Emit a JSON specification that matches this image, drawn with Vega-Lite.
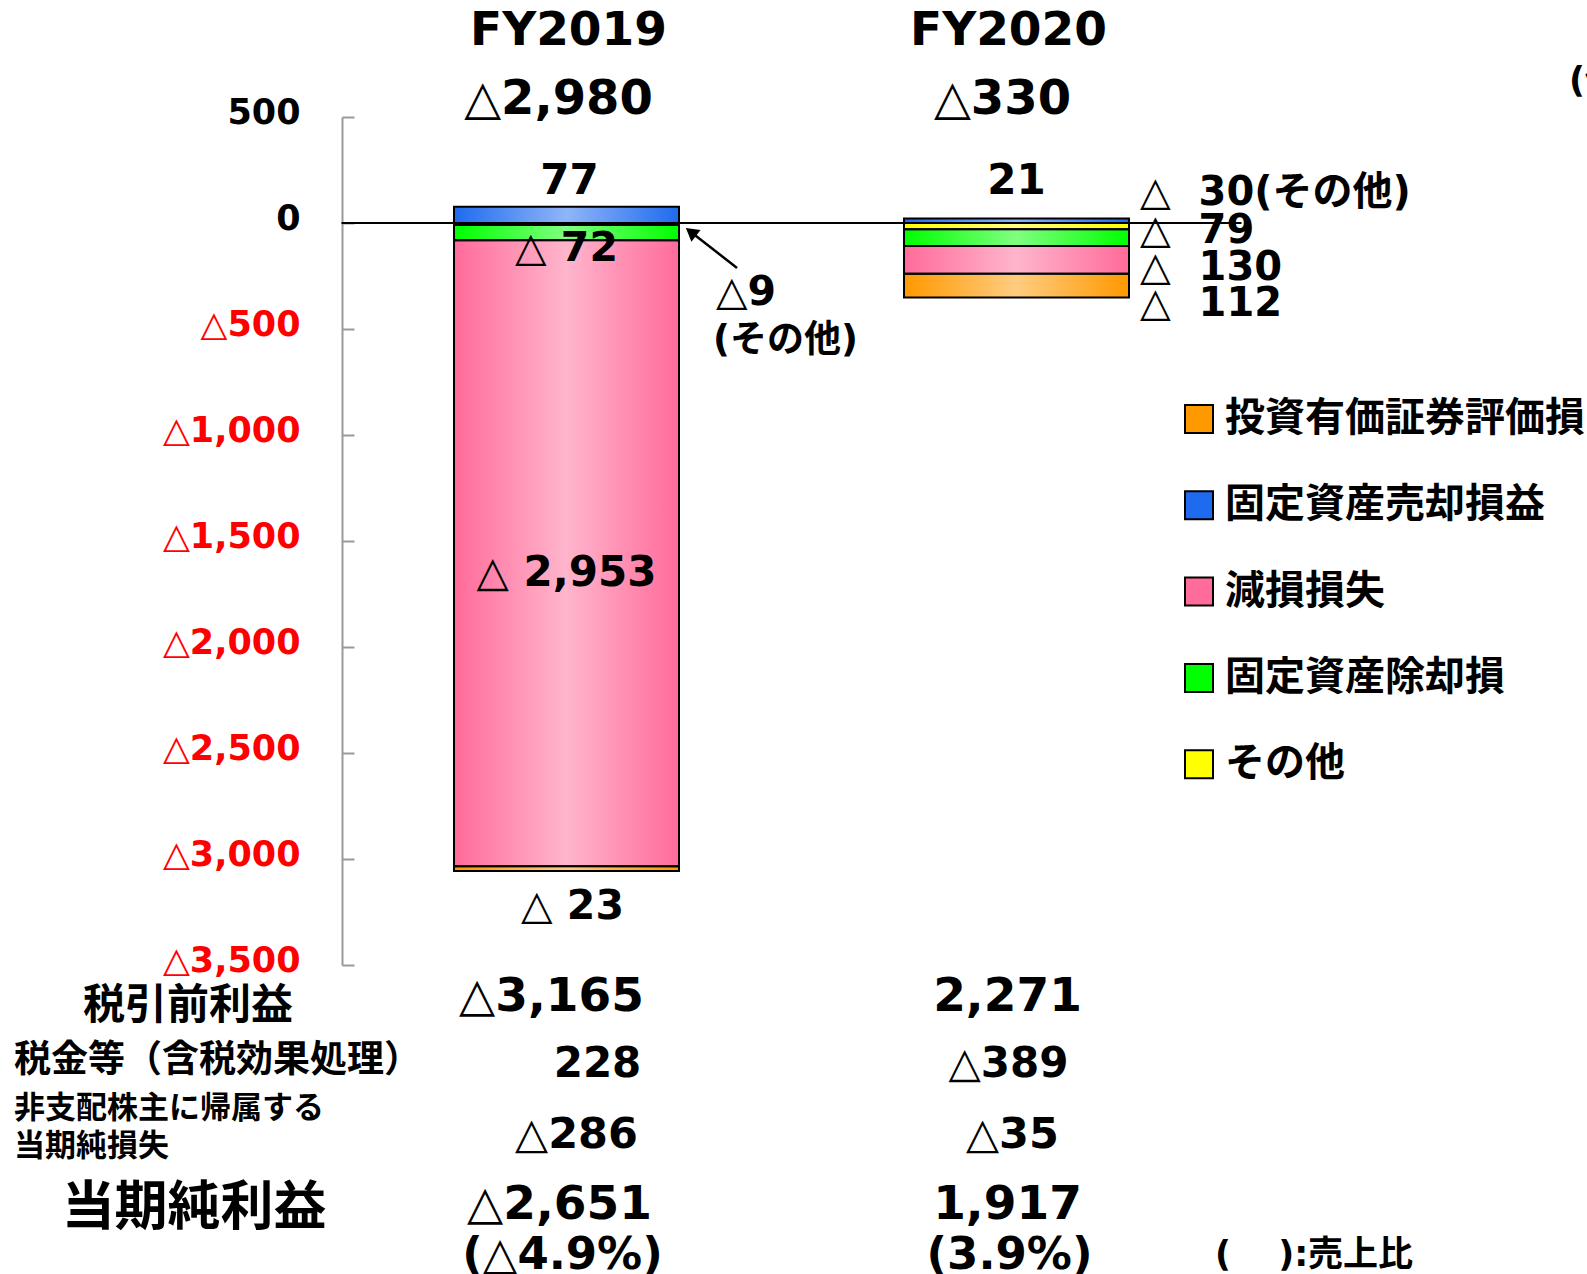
{
  "$schema": "https://vega.github.io/schema/vega-lite/v6.json",
  "width": 1125,
  "height": 848,
  "autosize": {"type": "none"},
  "padding": {"left": 4, "top": 117, "right": 458, "bottom": 309},
  "background": "white",
  "config": {
    "view": {"stroke": null},
    "axisX": {"disable": true},
    "text": {"font": "DejaVu Sans, Noto Sans CJK JP", "fontWeight": "bold", "color": "#000000"}
  },
  "datasets": {
    "bars": [
      {"year": "FY2019", "item": "固定資産売却損益", "value": 77, "order": 0},
      {"year": "FY2019", "item": "その他", "value": -9, "order": 1},
      {"year": "FY2019", "item": "固定資産除却損", "value": -72, "order": 2},
      {"year": "FY2019", "item": "減損損失", "value": -2953, "order": 3},
      {"year": "FY2019", "item": "投資有価証券評価損", "value": -23, "order": 4},
      {"year": "FY2020", "item": "固定資産売却損益", "value": 21, "order": 0},
      {"year": "FY2020", "item": "その他", "value": -30, "order": 1},
      {"year": "FY2020", "item": "固定資産除却損", "value": -79, "order": 2},
      {"year": "FY2020", "item": "減損損失", "value": -130, "order": 3},
      {"year": "FY2020", "item": "投資有価証券評価損", "value": -112, "order": 4}
    ]
  },
  "layer": [
    {
      "data": {"name": "bars"},
      "mark": {"type": "bar"},
      "encoding": {
        "x": {"field": "year", "type": "nominal", "scale": {"type": "band", "domain": ["項目", "FY2019", "FY2020"], "paddingInner": 0.5, "paddingOuter": 0}, "axis": null},
        "y": {
          "field": "value", "type": "quantitative", "stack": "zero",
          "scale": {"domain": [-3500, 500], "nice": false, "zero": false},
          "axis": {
            "title": null,
            "values": [500, 0, -500, -1000, -1500, -2000, -2500, -3000, -3500],
            "labelExpr": "datum.value < 0 ? '△' + format(-datum.value, ',') : format(datum.value, ',')",
            "labelColor": {"condition": {"test": "datum.value < 0", "value": "#FF0000"}, "value": "#000000"},
            "labelFont": "DejaVu Sans",
            "labelFontWeight": "bold",
            "labelFontSize": 35,
            "labelPadding": 54,
            "labelOffset": -5,
            "offset": -338,
            "grid": false,
            "domainColor": "#999999",
            "domainWidth": 2,
            "tickColor": "#999999",
            "tickWidth": 2,
            "tickSize": -12
          }
        },
        "color": {
          "field": "item", "type": "nominal",
          "scale": {"domain": ["投資有価証券評価損", "固定資産売却損益", "減損損失", "固定資産除却損", "その他"], "range": ["#FF9900", "#1F6BEF", "#FF6B9A", "#00FF00", "#FFFF00"]},
          "legend": {
            "title": null, "orient": "none", "legendX": 1175, "legendY": 282, "padding": 0,
            "symbolType": "square", "symbolSize": 784, "symbolStrokeColor": "#000000", "symbolStrokeWidth": 2, "symbolOpacity": 1,
            "labelFont": "Noto Sans CJK JP", "labelFontWeight": "bold", "labelFontSize": 40, "labelColor": "#000000",
            "labelOffset": 6, "labelLimit": 0, "rowPadding": 46.3
          }
        },
        "order": {"field": "order", "type": "quantitative"}
      }
    },
    {
      "data": {"name": "bars"},
      "mark": {
        "type": "bar", "stroke": "#000000", "strokeWidth": 2,
        "fill": {"gradient": "linear", "x1": 0, "x2": 1, "y1": 0, "y2": 0,
          "stops": [{"offset": 0, "color": "rgba(255,255,255,0)"}, {"offset": 0.5, "color": "rgba(255,255,255,0.5)"}, {"offset": 1, "color": "rgba(255,255,255,0)"}]}
      },
      "encoding": {
        "x": {"field": "year", "type": "nominal"},
        "y": {"field": "value", "type": "quantitative", "stack": "zero"},
        "detail": {"field": "item"},
        "order": {"field": "order", "type": "quantitative"}
      }
    },
    {
      "data": {"values": [{}]},
      "mark": {"type": "rule", "color": "#000000", "strokeWidth": 2},
      "encoding": {"x": {"datum": "FY2019", "bandPosition": -0.5}, "x2": {"datum": "FY2020", "bandPosition": 1.5}, "y": {"datum": 0}}
    },
    {
      "data": {"values": [{}]},
      "mark": {"type": "rule", "color": "#000000", "strokeWidth": 2.5},
      "encoding": {"x": {"datum": "FY2019", "bandPosition": 1.258}, "y": {"datum": -212}, "x2": {"datum": "FY2019", "bandPosition": 1.05}, "y2": {"datum": -40}}
    },
    {
      "data": {"values": [{}]},
      "mark": {"type": "point", "shape": "triangle-up", "filled": true, "color": "#000000", "opacity": 1, "size": 220, "angle": 308},
      "encoding": {"x": {"datum": "FY2019", "bandPosition": 1.053}, "y": {"datum": -42}}
    },
    {
      "data": {"values": [{"year": "FY2019", "t": "FY2019"}, {"year": "FY2020", "t": "FY2020"}]},
      "mark": {"type": "text", "fontSize": 47, "dx": {"expr": "datum.year === 'FY2019' ? 2 : -8"}},
      "encoding": {"x": {"field": "year", "type": "nominal"}, "y": {"datum": 905}, "text": {"field": "t"}}
    },
    {
      "data": {"values": [{"year": "FY2019", "t": "△2,980"}, {"year": "FY2020", "t": "△330"}]},
      "mark": {"type": "text", "fontSize": 48, "dx": {"expr": "datum.year === 'FY2019' ? -8 : -14"}},
      "encoding": {"x": {"field": "year", "type": "nominal"}, "y": {"datum": 578}, "text": {"field": "t"}}
    },
    {
      "data": {"values": [{"year": "FY2019", "t": "77"}, {"year": "FY2020", "t": "21"}]},
      "mark": {"type": "text", "fontSize": 42, "dx": {"expr": "datum.year === 'FY2019' ? 3 : 0"}},
      "encoding": {"x": {"field": "year", "type": "nominal"}, "y": {"datum": 198}, "text": {"field": "t"}}
    },
    {
      "data": {"values": [{"year": "FY2019", "t": "△ 72"}]},
      "mark": {"type": "text", "fontSize": 41},
      "encoding": {"x": {"field": "year", "type": "nominal"}, "y": {"datum": -124}, "text": {"field": "t"}}
    },
    {
      "data": {"values": [{"year": "FY2019", "t": "△ 2,953"}]},
      "mark": {"type": "text", "fontSize": 42},
      "encoding": {"x": {"field": "year", "type": "nominal"}, "y": {"datum": -1652}, "text": {"field": "t"}}
    },
    {
      "data": {"values": [{"year": "FY2019", "t": "△ 23"}]},
      "mark": {"type": "text", "fontSize": 41, "dx": 6},
      "encoding": {"x": {"field": "year", "type": "nominal"}, "y": {"datum": -3225}, "text": {"field": "t"}}
    },
    {
      "data": {"values": [{"year": "FY2019", "t": "△9"}]},
      "mark": {"type": "text", "fontSize": 41, "align": "left", "dx": 37},
      "encoding": {"x": {"field": "year", "type": "nominal", "bandPosition": 1}, "y": {"datum": -328}, "text": {"field": "t"}}
    },
    {
      "data": {"values": [{"year": "FY2019", "t": "(その他)"}]},
      "mark": {"type": "text", "fontSize": 37, "align": "left", "dx": 34},
      "encoding": {"x": {"field": "year", "type": "nominal", "bandPosition": 1}, "y": {"datum": -557}, "text": {"field": "t"}}
    },
    {
      "data": {"values": [{"year": "FY2020", "t": "△\u00a0 30(その他)"}]},
      "mark": {"type": "text", "fontSize": 40, "align": "left", "dx": 11},
      "encoding": {"x": {"field": "year", "type": "nominal", "bandPosition": 1}, "y": {"datum": 140}, "text": {"field": "t"}}
    },
    {
      "data": {"values": [{"year": "FY2020", "t": "△\u00a0 79"}]},
      "mark": {"type": "text", "fontSize": 40, "align": "left", "dx": 11},
      "encoding": {"x": {"field": "year", "type": "nominal", "bandPosition": 1}, "y": {"datum": -36}, "text": {"field": "t"}}
    },
    {
      "data": {"values": [{"year": "FY2020", "t": "△\u00a0 130"}]},
      "mark": {"type": "text", "fontSize": 40, "align": "left", "dx": 11},
      "encoding": {"x": {"field": "year", "type": "nominal", "bandPosition": 1}, "y": {"datum": -210}, "text": {"field": "t"}}
    },
    {
      "data": {"values": [{"year": "FY2020", "t": "△\u00a0 112"}]},
      "mark": {"type": "text", "fontSize": 40, "align": "left", "dx": 11},
      "encoding": {"x": {"field": "year", "type": "nominal", "bandPosition": 1}, "y": {"datum": -380}, "text": {"field": "t"}}
    },
    {
      "data": {"values": [{"col": "項目", "t": "税引前利益"}]},
      "mark": {"type": "text", "fontSize": 42, "font": "Noto Sans CJK JP"},
      "encoding": {"x": {"field": "col", "type": "nominal", "bandPosition": 0.818}, "y": {"datum": -3694}, "text": {"field": "t"}}
    },
    {
      "data": {"values": [{"year": "FY2019", "t": "△3,165"}, {"year": "FY2020", "t": "2,271"}]},
      "mark": {"type": "text", "fontSize": 47, "dx": {"expr": "datum.year === 'FY2019' ? -15 : -9"}},
      "encoding": {"x": {"field": "year", "type": "nominal"}, "y": {"datum": -3650}, "text": {"field": "t"}}
    },
    {
      "data": {"values": [{"col": "項目", "t": "税金等（含税効果処理）"}]},
      "mark": {"type": "text", "fontSize": 37, "font": "Noto Sans CJK JP", "align": "left"},
      "encoding": {"x": {"field": "col", "type": "nominal", "bandPosition": 0.044}, "y": {"datum": -3955}, "text": {"field": "t"}}
    },
    {
      "data": {"values": [{"year": "FY2019", "t": "228"}, {"year": "FY2020", "t": "△389"}]},
      "mark": {"type": "text", "fontSize": 42, "dx": {"expr": "datum.year === 'FY2019' ? 31 : -8"}},
      "encoding": {"x": {"field": "year", "type": "nominal"}, "y": {"datum": -3968}, "text": {"field": "t"}}
    },
    {
      "data": {"values": [{"col": "項目", "t": ["非支配株主に帰属する", "当期純損失"]}]},
      "mark": {"type": "text", "fontSize": 31, "font": "Noto Sans CJK JP", "align": "left", "lineHeight": 38},
      "encoding": {"x": {"field": "col", "type": "nominal", "bandPosition": 0.044}, "y": {"datum": -4179}, "text": {"field": "t"}}
    },
    {
      "data": {"values": [{"year": "FY2019", "t": "△286"}, {"year": "FY2020", "t": "△35"}]},
      "mark": {"type": "text", "fontSize": 43, "dx": {"expr": "datum.year === 'FY2019' ? 10 : -4"}},
      "encoding": {"x": {"field": "year", "type": "nominal"}, "y": {"datum": -4300}, "text": {"field": "t"}}
    },
    {
      "data": {"values": [{"col": "項目", "t": "当期純利益"}]},
      "mark": {"type": "text", "fontSize": 53, "font": "Noto Sans CJK JP"},
      "encoding": {"x": {"field": "col", "type": "nominal", "bandPosition": 0.845}, "y": {"datum": -4652}, "text": {"field": "t"}}
    },
    {
      "data": {"values": [{"year": "FY2019", "t": "△2,651"}, {"year": "FY2020", "t": "1,917"}]},
      "mark": {"type": "text", "fontSize": 47, "dx": {"expr": "datum.year === 'FY2019' ? -7 : -9"}},
      "encoding": {"x": {"field": "year", "type": "nominal"}, "y": {"datum": -4630}, "text": {"field": "t"}}
    },
    {
      "data": {"values": [{"year": "FY2019", "t": "(△4.9%)"}, {"year": "FY2020", "t": "(3.9%)"}]},
      "mark": {"type": "text", "fontSize": 45, "dx": {"expr": "datum.year === 'FY2019' ? -4 : -7"}},
      "encoding": {"x": {"field": "year", "type": "nominal"}, "y": {"datum": -4866}, "text": {"field": "t"}}
    },
    {
      "data": {"values": [{"year": "FY2020", "t": "(　 ):売上比"}]},
      "mark": {"type": "text", "fontSize": 35, "align": "left"},
      "encoding": {"x": {"field": "year", "type": "nominal", "bandPosition": 1.382}, "y": {"datum": -4866}, "text": {"field": "t"}}
    },
    {
      "data": {"values": [{"year": "FY2020", "t": "(億円)"}]},
      "mark": {"type": "text", "fontSize": 35, "align": "left"},
      "encoding": {"x": {"field": "year", "type": "nominal", "bandPosition": 2.956}, "y": {"datum": 670}, "text": {"field": "t"}}
    }
  ]
}
